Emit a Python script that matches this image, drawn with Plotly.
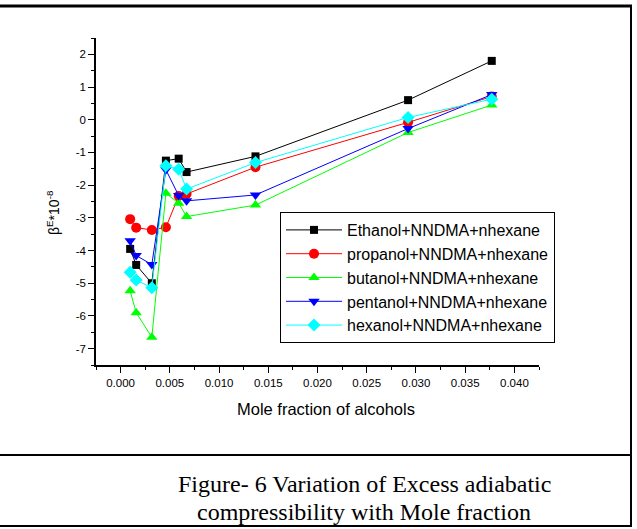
import plotly.graph_objects as go

# ---- data ----
mole_fraction = [0.00097, 0.00158, 0.00317, 0.0046, 0.0059, 0.0067, 0.0137, 0.0292, 0.0377]
ethanol  = [-3.95, -4.44, -5.00, -1.25, -1.19, -1.60, -1.12, 0.60, 1.80]
propanol = [-3.04, -3.30, -3.37, -3.29, -2.33, -2.27, -1.45, -0.08, 0.71]
butanol  = [-5.23, -5.90, -6.65, -2.25, -2.55, -2.96, -2.61, -0.39, 0.45]
pentanol = [-3.70, -4.15, -4.43, -1.53, -2.32, -2.48, -2.30, -0.27, 0.77]
hexanol  = [-4.66, -4.90, -5.14, -1.41, -1.51, -2.12, -1.31, 0.07, 0.63]
series_names = ["Ethanol+NNDMA+nhexane", "propanol+NNDMA+nhexane", "butanol+NNDMA+nhexane",
                "pentanol+NNDMA+nhexane", "hexanol+NNDMA+nhexane"]
x_ticks = [0.000, 0.005, 0.010, 0.015, 0.020, 0.025, 0.030, 0.035, 0.040]
x_tick_labels = ["0.000", "0.005", "0.010", "0.015", "0.020", "0.025", "0.030", "0.035", "0.040"]
y_ticks = [-7, -6, -5, -4, -3, -2, -1, 0, 1, 2]
y_tick_labels = ["-7", "-6", "-5", "-4", "-3", "-2", "-1", "0", "1", "2"]
caption_lines = ["Figure- 6 Variation of Excess adiabatic", "compressibility with Mole fraction"]

W, H = 637, 529
L, R, T, B = 96, 539, 38, 365  # plot area in pixels

colors = ["#000000", "#FF0000", "#00FF00", "#0000FF", "#00FFFF"]
symbols = ["square", "circle", "triangle-up", "triangle-down", "diamond"]
sizes = [8, 10, 10, 10, 10]
all_y = [ethanol, propanol, butanol, pentanol, hexanol]

fig = go.Figure()
for name, ys, c, s, sz in zip(series_names, all_y, colors, symbols, sizes):
    fig.add_trace(go.Scatter(x=mole_fraction, y=ys, mode="lines+markers", name=name,
                             line=dict(color=c, width=1),
                             marker=dict(symbol=s, size=sz, color=c, line=dict(width=0))))

def px_x(p):
    return (p - L) / (R - L)

def px_y(p):
    return (B - p) / (B - T)

axis_font = dict(family="Liberation Sans, Arial", size=11.5, color="#000000")
fig.update_xaxes(range=[-0.0025, 0.0425], tickvals=x_ticks, ticktext=x_tick_labels,
                 showgrid=False, zeroline=False, showline=True, linecolor="black", linewidth=1.5,
                 ticks="outside", ticklen=6, tickwidth=1, tickcolor="black", tickfont=axis_font,
                 minor=dict(ticks="outside", ticklen=3, tickcolor="black", dtick=0.0025, tick0=-0.0025, showgrid=False))
fig.update_yaxes(range=[-7.5, 2.5], tickvals=y_ticks, ticktext=y_tick_labels, showgrid=False, zeroline=False,
                 showline=True, linecolor="black", linewidth=1.5,
                 ticks="outside", ticklen=6, tickwidth=1, tickcolor="black", tickfont=axis_font,
                 minor=dict(ticks="outside", ticklen=3, tickcolor="black", dtick=0.5, tick0=-7.5, showgrid=False))

annotations = [
    dict(text="Mole fraction of alcohols", x=px_x(326), y=px_y(409), xref="paper", yref="paper",
         showarrow=False, font=dict(family="Liberation Sans, Arial", size=16.5, color="black"),
         xanchor="center", yanchor="middle"),
    dict(text="β<sup>E</sup>*10<sup>-8</sup>", x=px_x(53), y=px_y(213), xref="paper", yref="paper",
         showarrow=False, textangle=-90, font=dict(family="Liberation Sans, Arial", size=14, color="black"),
         xanchor="center", yanchor="middle"),
]
for i, line in enumerate(caption_lines):
    annotations.append(dict(text=line, x=px_x(364), y=px_y(484 + 28 * i), xref="paper", yref="paper",
                            showarrow=False, font=dict(family="Liberation Serif, Times New Roman", size=24, color="black"),
                            xanchor="center", yanchor="middle"))

shapes = [
    dict(type="line", xref="paper", yref="paper", x0=px_x(0), x1=px_x(632), y0=px_y(6), y1=px_y(6), line=dict(color="black", width=3)),
    dict(type="line", xref="paper", yref="paper", x0=px_x(631), x1=px_x(631), y0=px_y(6), y1=px_y(526), line=dict(color="black", width=2)),
    dict(type="line", xref="paper", yref="paper", x0=px_x(0), x1=px_x(632), y0=px_y(455), y1=px_y(455), line=dict(color="black", width=2)),
    dict(type="line", xref="paper", yref="paper", x0=px_x(0), x1=px_x(632), y0=px_y(526), y1=px_y(526), line=dict(color="black", width=2)),
]

fig.update_layout(
    width=W, height=H,
    margin=dict(l=L, r=W - R, t=T, b=H - B),
    paper_bgcolor="white", plot_bgcolor="white",
    showlegend=True,
    legend=dict(x=px_x(280), y=px_y(212), xanchor="left", yanchor="top",
                bordercolor="black", borderwidth=1, bgcolor="white",
                font=dict(family="Liberation Sans, Arial", size=16, color="black"),
                tracegroupgap=0, itemwidth=56),
    annotations=annotations, shapes=shapes,
)

fig.write_html("out.html")
